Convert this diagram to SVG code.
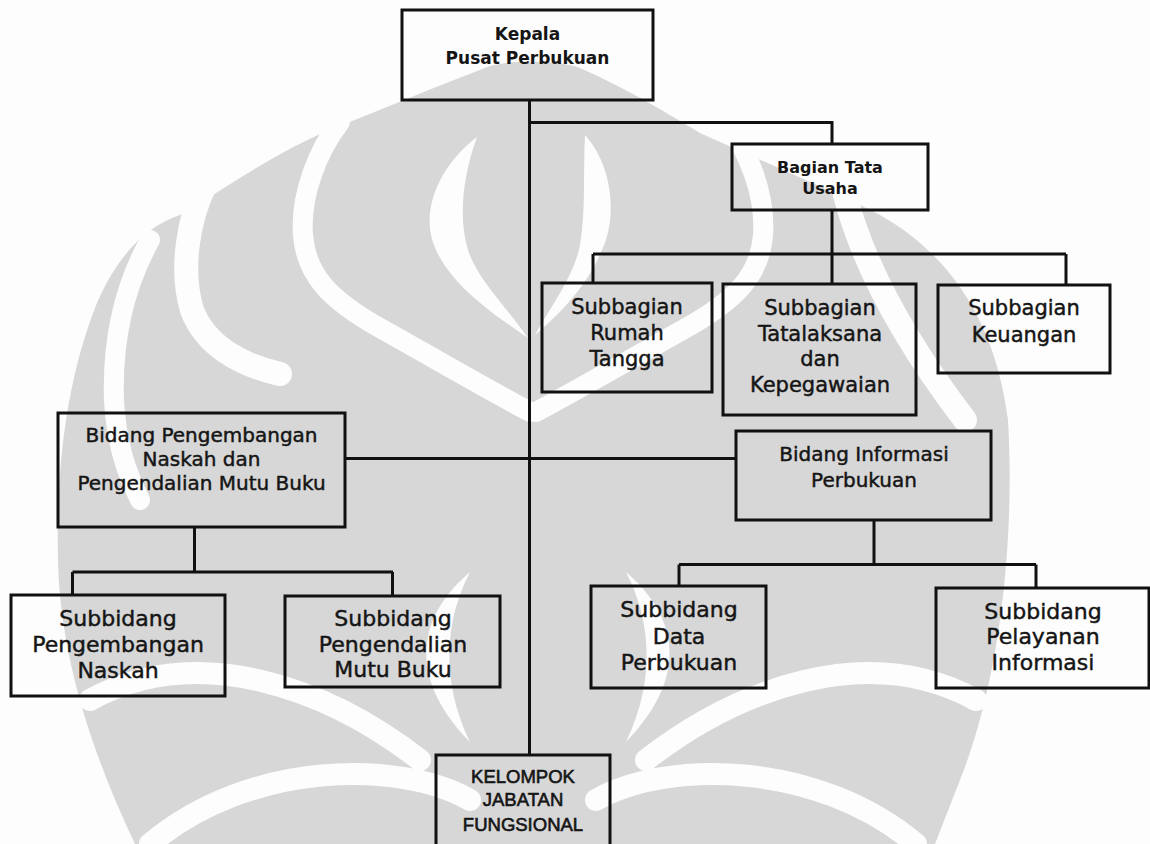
<svg xmlns="http://www.w3.org/2000/svg" width="1150" height="844" viewBox="0 0 1150 844">
<style>
.box{fill:none;stroke:#111;stroke-width:3}
.ln{fill:none;stroke:#111;stroke-width:3}
.tb{font-family:"DejaVu Sans",sans-serif;font-weight:bold;fill:#151515;text-anchor:middle}
.t{font-family:"DejaVu Sans",sans-serif;fill:#151515;stroke:#151515;stroke-width:0.45;text-anchor:middle}
.tk{font-family:"Liberation Sans",sans-serif;font-size:18.5px;fill:#151515;stroke:#151515;stroke-width:0.6;text-anchor:middle}
.wm{fill:#d7d7d7}
.gap{fill:none;stroke:#fdfdfd;stroke-linecap:round}
</style>
<rect x="0" y="0" width="1150" height="844" fill="#fdfdfd"/>
<g id="watermark">
<path class="wm" d="M490,66 C510,60 560,60 580,68 C630,90 670,115 700,133 C760,160 830,190 880,215 C950,255 995,320 1008,420 C1015,540 1000,680 960,780 L935,844 L135,844 C95,760 60,660 58,560 C56,470 66,380 97,303 C120,250 150,225 180,215 C230,185 280,150 330,130 C380,110 440,85 490,66 Z"/>
<path class="gap" stroke-width="20" d="M150,240 C125,285 112,340 114,400 C116,440 125,470 140,500"/>
<path class="gap" stroke-width="24" d="M205,185 C188,220 180,270 192,310 C205,345 240,365 280,374"/>
<path class="gap" stroke-width="20" d="M340,122 C318,150 300,195 303,235 C306,275 330,300 380,328 C430,356 480,385 530,412"/>
<path fill="#fdfdfd" d="M477,137 C440,165 418,212 436,250 C452,285 490,312 528,338 C505,305 478,280 468,250 C458,218 463,175 477,137 Z"/>
<path fill="#fdfdfd" d="M585,135 C612,165 618,215 602,250 C590,280 565,310 535,335 C555,300 574,275 580,245 C586,210 583,170 585,135 Z"/>
<path class="gap" stroke-width="20" d="M726,122 C748,150 766,195 763,235 C760,275 736,300 686,328 C636,356 586,385 536,412"/>
<path class="gap" stroke-width="24" d="M845,195 C862,260 900,335 965,420"/>
<path fill="#fdfdfd" d="M470,572 C425,610 400,670 470,742 C440,680 445,620 470,572 Z"/>
<path fill="#fdfdfd" d="M626,572 C671,610 696,670 626,742 C656,680 651,620 626,572 Z"/>
<path class="gap" stroke-width="22" d="M90,700 C200,640 330,690 420,760"/>
<path class="gap" stroke-width="22" d="M150,844 C250,760 400,760 470,800"/>
<path class="gap" stroke-width="22" d="M976,700 C866,640 736,690 646,760"/>
<path class="gap" stroke-width="22" d="M916,844 C816,760 666,760 596,800"/>
</g>
<g id="connectors">
<path class="ln" d="M529.5,100 V755"/>
<path class="ln" d="M529.5,122.5 H832 V144"/>
<path class="ln" d="M832,210 V254"/>
<path class="ln" d="M593,254 H1066"/>
<path class="ln" d="M593,254 V283"/>
<path class="ln" d="M832,254 V284"/>
<path class="ln" d="M1066,254 V285"/>
<path class="ln" d="M345,458.5 H736"/>
<path class="ln" d="M194.5,527 V572"/>
<path class="ln" d="M72.5,572 H393"/>
<path class="ln" d="M72.5,572 V595"/>
<path class="ln" d="M392.5,572 V596"/>
<path class="ln" d="M874,520 V564.5"/>
<path class="ln" d="M679,564.5 H1036"/>
<path class="ln" d="M679,564.5 V586"/>
<path class="ln" d="M1036,564.5 V588"/>
</g>
<g id="kepala">
<rect class="box" x="402" y="10" width="251" height="90"/>
<text class="tb" font-size="17" x="527.5" y="39.5">Kepala</text>
<text class="tb" font-size="17" x="527.5" y="64">Pusat Perbukuan</text>
</g>
<g id="bagian-tata-usaha">
<rect class="box" x="732" y="144" width="196" height="66"/>
<text class="tb" font-size="16" x="830" y="173">Bagian Tata</text>
<text class="tb" font-size="16" x="830" y="194">Usaha</text>
</g>
<g id="subbagian-rumah-tangga">
<rect class="box" x="542" y="283" width="170" height="109"/>
<text class="t" font-size="21" x="627" y="314">Subbagian</text>
<text class="t" font-size="21" x="627" y="340">Rumah</text>
<text class="t" font-size="21" x="627" y="366">Tangga</text>
</g>
<g id="subbagian-tatalaksana">
<rect class="box" x="723" y="284" width="193" height="131"/>
<text class="t" font-size="21" x="820" y="315">Subbagian</text>
<text class="t" font-size="21" x="820" y="341">Tatalaksana</text>
<text class="t" font-size="21" x="820" y="366">dan</text>
<text class="t" font-size="21" x="820" y="392">Kepegawaian</text>
</g>
<g id="subbagian-keuangan">
<rect class="box" x="938" y="285" width="172" height="88"/>
<text class="t" font-size="21" x="1024" y="315">Subbagian</text>
<text class="t" font-size="21" x="1024" y="342">Keuangan</text>
</g>
<g id="bidang-pengembangan">
<rect class="box" x="58" y="413" width="287" height="114"/>
<text class="t" font-size="20" x="201.5" y="442">Bidang Pengembangan</text>
<text class="t" font-size="20" x="201.5" y="466">Naskah dan</text>
<text class="t" font-size="20" x="201.5" y="490">Pengendalian Mutu Buku</text>
</g>
<g id="bidang-informasi">
<rect class="box" x="736" y="431" width="255" height="89"/>
<text class="t" font-size="20" x="864" y="461">Bidang Informasi</text>
<text class="t" font-size="20" x="864" y="487">Perbukuan</text>
</g>
<g id="subbidang-pengembangan-naskah">
<rect class="box" x="11" y="595" width="214" height="101"/>
<text class="t" font-size="22" x="118" y="626">Subbidang</text>
<text class="t" font-size="22" x="118" y="652">Pengembangan</text>
<text class="t" font-size="22" x="118" y="678">Naskah</text>
</g>
<g id="subbidang-pengendalian">
<rect class="box" x="285" y="596" width="215" height="91"/>
<text class="t" font-size="22" x="393" y="626">Subbidang</text>
<text class="t" font-size="22" x="393" y="652">Pengendalian</text>
<text class="t" font-size="22" x="393" y="677">Mutu Buku</text>
</g>
<g id="subbidang-data">
<rect class="box" x="591" y="586" width="175" height="102"/>
<text class="t" font-size="22" x="679" y="617">Subbidang</text>
<text class="t" font-size="22" x="679" y="644">Data</text>
<text class="t" font-size="22" x="679" y="670">Perbukuan</text>
</g>
<g id="subbidang-pelayanan">
<rect class="box" x="936" y="588" width="213" height="100"/>
<text class="t" font-size="22" x="1043" y="619">Subbidang</text>
<text class="t" font-size="22" x="1043" y="644">Pelayanan</text>
<text class="t" font-size="22" x="1043" y="670">Informasi</text>
</g>
<g id="kelompok">
<rect class="box" x="436" y="755" width="174" height="95"/>
<text class="tk" x="523" y="783">KELOMPOK</text>
<text class="tk" x="523" y="806">JABATAN</text>
<text class="tk" x="523" y="831">FUNGSIONAL</text>
</g>
</svg>
